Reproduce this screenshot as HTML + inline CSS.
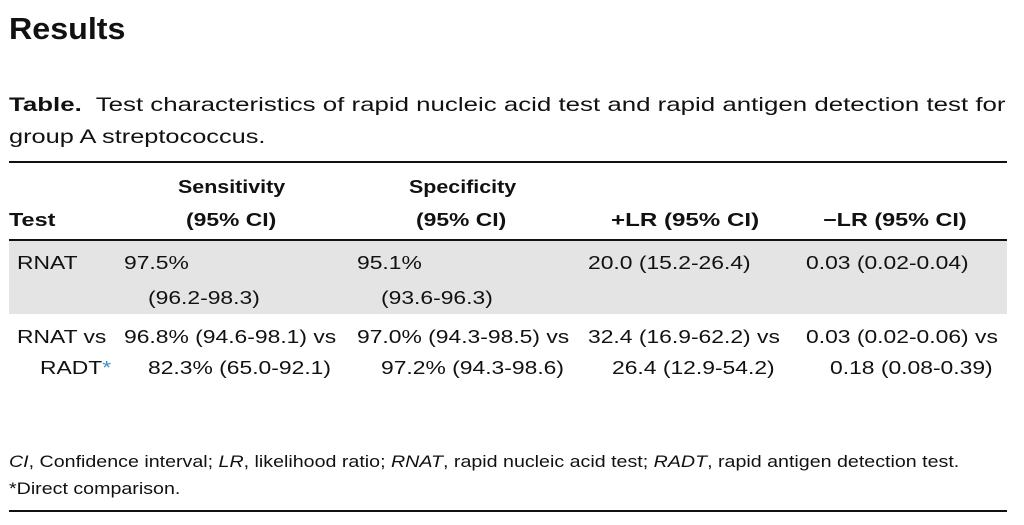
<!DOCTYPE html>
<html><head><meta charset="utf-8"><style>
body{margin:0;width:1024px;height:525px;background:#fff;position:relative;font-family:"Liberation Sans",sans-serif;color:#111;overflow:hidden}
.t{position:absolute;white-space:nowrap;font-size:18px;line-height:18px;transform:scaleX(1.27);transform-origin:0 0}
.b{font-weight:bold}
.hr{position:absolute;left:9px;width:998px;background:#111}
</style></head><body>
<div class="t b" style="left:9px;top:13px;font-size:31px;line-height:31px;transform:scaleX(1.04)">Results</div>
<div class="t" style="left:9px;top:96px;font-size:19.5px;line-height:19.5px;transform:scaleX(1.326)"><b>Table.</b>&nbsp; Test characteristics of rapid nucleic acid test and rapid antigen detection test for</div>
<div class="t" style="left:9px;top:128px;font-size:19.5px;line-height:19.5px;transform:scaleX(1.3)">group A streptococcus.</div>
<div class="hr" style="top:161px;height:2px"></div>
<div class="t b" style="left:178px;top:178px;transform:scaleX(1.19)">Sensitivity</div>
<div class="t b" style="left:409px;top:178px;transform:scaleX(1.19)">Specificity</div>
<div class="t b" style="left:9px;top:211px;transform:scaleX(1.3)">Test</div>
<div class="t b" style="left:186px;top:211px">(95% CI)</div>
<div class="t b" style="left:416px;top:211px">(95% CI)</div>
<div class="t b" style="left:611px;top:211px;transform:scaleX(1.34)">+LR (95% CI)</div>
<div class="t b" style="left:823px;top:211px;transform:scaleX(1.3)">−LR (95% CI)</div>
<div class="hr" style="top:239px;height:2px"></div>
<div style="position:absolute;left:9px;top:241px;width:998px;height:73px;background:#e4e4e4"></div>
<div class="t" style="left:17px;top:254px">RNAT</div>
<div class="t" style="left:124px;top:254px">97.5%</div>
<div class="t" style="left:357px;top:254px">95.1%</div>
<div class="t" style="left:588px;top:254px">20.0 (15.2-26.4)</div>
<div class="t" style="left:806px;top:254px">0.03 (0.02-0.04)</div>
<div class="t" style="left:148px;top:289px">(96.2-98.3)</div>
<div class="t" style="left:381px;top:289px">(93.6-96.3)</div>
<div class="t" style="left:17px;top:328px">RNAT vs</div>
<div class="t" style="left:124px;top:328px">96.8% (94.6-98.1) vs</div>
<div class="t" style="left:357px;top:328px">97.0% (94.3-98.5) vs</div>
<div class="t" style="left:588px;top:328px">32.4 (16.9-62.2) vs</div>
<div class="t" style="left:806px;top:328px">0.03 (0.02-0.06) vs</div>
<div class="t" style="left:40px;top:359px">RADT<span style="color:#3a8fc8">*</span></div>
<div class="t" style="left:148px;top:359px">82.3% (65.0-92.1)</div>
<div class="t" style="left:381px;top:359px">97.2% (94.3-98.6)</div>
<div class="t" style="left:612px;top:359px">26.4 (12.9-54.2)</div>
<div class="t" style="left:830px;top:359px">0.18 (0.08-0.39)</div>
<div class="t" style="left:9px;top:453px;font-size:17px;line-height:17px;transform:scaleX(1.155)"><i>CI</i>, Confidence interval; <i>LR</i>, likelihood ratio; <i>RNAT</i>, rapid nucleic acid test; <i>RADT</i>, rapid antigen detection test.</div>
<div class="t" style="left:9px;top:480px;font-size:17px;line-height:17px;transform:scaleX(1.155)">*Direct comparison.</div>
<div class="hr" style="top:510px;height:2px"></div>
</body></html>
